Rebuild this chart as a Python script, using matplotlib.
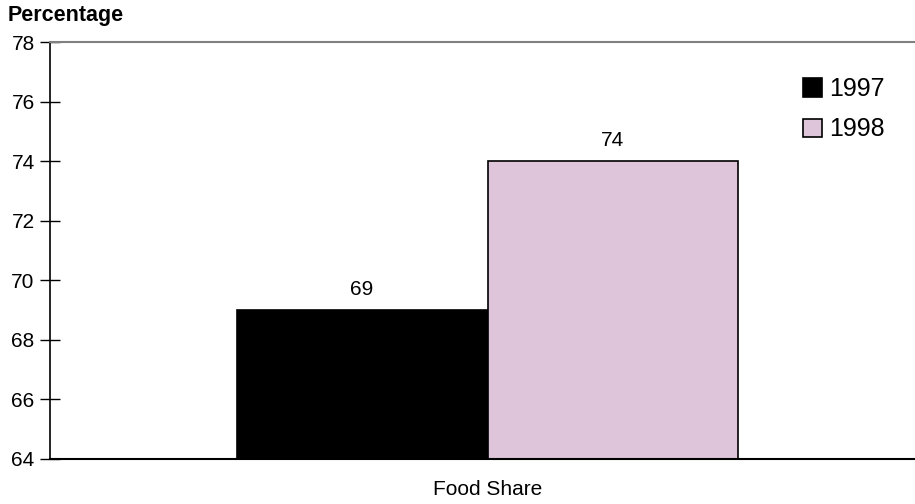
import matplotlib
matplotlib.use("Agg")
import matplotlib.pyplot as plt

plt.rcParams['font.family'] = ['Liberation Sans', 'DejaVu Sans']

categories = ["Food Share"]
years = ["1997", "1998"]
values_1997 = [69]
values_1998 = [74]
colors = ["#000000", "#dfc5d9"]

fig = plt.figure(figsize=(9.15, 5.04), dpi=100)
ax = fig.add_axes([50 / 915, 1 - 459 / 504, 865 / 915, 417 / 504])

width = 0.29
x = [0]
for i, (vals, col, lab) in enumerate(zip([values_1997, values_1998], colors, years)):
    pos = [p + (i - 0.5) * width for p in x]
    bars = ax.bar(pos, [v - 64 for v in vals], width, bottom=64, color=col,
                  edgecolor="black", linewidth=1.2, label=lab)
    for b, v in zip(bars, vals):
        ax.text(b.get_x() + b.get_width() / 2, v + 0.38, str(v),
                ha="center", va="bottom", fontsize=15)

ax.set_ylim(64, 78)
ax.set_xlim(-0.5058, 0.4942)
ax.set_yticks(range(64, 79, 2))
ax.tick_params(axis="y", labelsize=15, direction="inout", length=14, width=1, pad=4)
ax.set_xticks(x)
ax.set_xticklabels(categories, fontsize=15)
ax.tick_params(axis="x", length=0, pad=15)

ax.spines["right"].set_visible(False)
ax.spines["top"].set_color("#808080")
ax.spines["top"].set_linewidth(1.5)
ax.spines["left"].set_linewidth(1.2)
ax.spines["bottom"].set_linewidth(1.5)

fig.text(8 / 915, 1 - 16 / 504, "Percentage", fontsize=15.5, fontweight="bold",
         va="center", ha="left")

ax.legend(loc="upper left", bbox_to_anchor=(803 / 915, 1 - 77 / 504),
          bbox_transform=fig.transFigure, frameon=False, borderpad=0,
          borderaxespad=0, fontsize=18, handlelength=0.76, handleheight=0.76,
          handletextpad=0.28, labelspacing=0.66)

fig.savefig("out.png", dpi=100)
